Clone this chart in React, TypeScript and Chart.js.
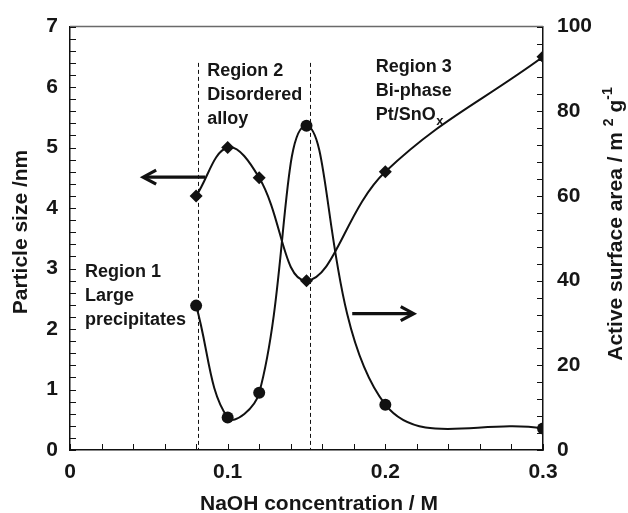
import React, { useEffect, useRef } from 'react';
import { Chart, registerables } from 'chart.js';

Chart.register(...registerables);

// ---- Data ----
const naohConcentration = [0.08, 0.1, 0.12, 0.15, 0.2, 0.3];
const particleSize = [4.2, 5.0, 4.5, 2.8, 4.6, 6.5];
const activeSurfaceArea = [34.1, 7.7, 13.5, 76.6, 10.7, 5.1];
const xTickLabels = ['0', '0.1', '0.2', '0.3'];
const leftTickLabels = ['0', '1', '2', '3', '4', '5', '6', '7'];
const rightTickLabels = ['0', '20', '40', '60', '80', '100'];
const regionBoundaries = [0.081, 0.152];

// annotation anchors in data units
const region1Lines = ['Region 1', 'Large', 'precipitates'];
const region2Lines = ['Region 2', 'Disordered', 'alloy'];
const region3Lines = ['Region 3', 'Bi-phase', 'Pt/SnO'];
const region1Anchor = { x: 0.0095, yLeft: 2.862 };
const region2Anchor = { x: 0.0871, yLeft: 6.18 };
const region3Anchor = { x: 0.1939, yLeft: 6.245 };
const leftArrow = { from: 0.0858, to: 0.0464, yLeft: 4.51 };
const rightArrow = { from: 0.179, to: 0.218, yRight: 32.2 };
const dashTopLeft = 6.4;

const FONT = "'Liberation Sans', Arial, Helvetica, sans-serif";
const TEXT = '#161616';

function line(ctx: CanvasRenderingContext2D, x1: number, y1: number, x2: number, y2: number) {
  ctx.beginPath();
  ctx.moveTo(x1, y1);
  ctx.lineTo(x2, y2);
  ctx.stroke();
}

function drawArrow(ctx: CanvasRenderingContext2D, x1: number, x2: number, y: number) {
  const dir = x2 < x1 ? 1 : -1;
  ctx.save();
  ctx.strokeStyle = '#111';
  ctx.lineWidth = 3.2;
  ctx.lineCap = 'butt';
  ctx.lineJoin = 'miter';
  line(ctx, x1, y, x2 + dir * 2, y);
  ctx.beginPath();
  ctx.moveTo(x2 + dir * 13, y - 7);
  ctx.lineTo(x2, y);
  ctx.lineTo(x2 + dir * 13, y + 7);
  ctx.stroke();
  ctx.restore();
}

const overlayPlugin = {
  id: 'overlay',
  beforeDatasetsDraw(chart: any) {
    const { ctx, chartArea: ca, scales } = chart;
    const x = scales.x;
    const yL = scales.yL;
    ctx.save();
    ctx.strokeStyle = '#111';
    ctx.lineWidth = 1;
    ctx.setLineDash([4, 3]);
    for (const b of regionBoundaries) {
      const px = Math.round(x.getPixelForValue(b)) + 0.5;
      line(ctx, px, yL.getPixelForValue(dashTopLeft), px, ca.bottom);
    }
    ctx.restore();
  },
  afterDraw(chart: any) {
    const { ctx, chartArea: ca, scales } = chart;
    const x = scales.x;
    const yL = scales.yL;
    const yR = scales.yR;
    ctx.save();
    // top frame line
    ctx.strokeStyle = '#6a6a6a';
    ctx.lineWidth = 1.5;
    line(ctx, ca.left, ca.top, ca.right, ca.top);

    // tick marks (inward)
    ctx.strokeStyle = '#111';
    ctx.lineWidth = 1;
    const xStep = 0.1 / 5;
    for (let i = 0; i <= Math.round(0.3 / xStep); i++) {
      const px = Math.round(x.getPixelForValue(i * xStep)) + 0.5;
      line(ctx, px, ca.bottom, px, ca.bottom - 6);
    }
    const lStep = 1 / 5;
    for (let i = 0; i <= Math.round(7 / lStep); i++) {
      const py = Math.round(yL.getPixelForValue(i * lStep)) + 0.5;
      line(ctx, ca.left, py, ca.left + 6, py);
    }
    const rStep = 20 / 5;
    for (let i = 0; i <= Math.round(100 / rStep); i++) {
      const py = Math.round(yR.getPixelForValue(i * rStep)) + 0.5;
      line(ctx, ca.right, py, ca.right - 6, py);
    }

    // arrows
    drawArrow(ctx, x.getPixelForValue(leftArrow.from), x.getPixelForValue(leftArrow.to), yL.getPixelForValue(leftArrow.yLeft));
    drawArrow(ctx, x.getPixelForValue(rightArrow.from), x.getPixelForValue(rightArrow.to), yR.getPixelForValue(rightArrow.yRight));

    // region texts
    ctx.fillStyle = TEXT;
    ctx.font = `bold 18px ${FONT}`;
    ctx.textAlign = 'left';
    ctx.textBaseline = 'alphabetic';
    const lineGap = 24;
    const drawLines = (lines: string[], anchor: { x: number; yLeft: number }, subLast?: string) => {
      const px = x.getPixelForValue(anchor.x);
      const py = yL.getPixelForValue(anchor.yLeft);
      lines.forEach((t, i) => {
        ctx.font = `bold 18px ${FONT}`;
        ctx.fillText(t, px, py + i * lineGap);
        if (subLast && i === lines.length - 1) {
          const w = ctx.measureText(t).width;
          ctx.font = `bold 13px ${FONT}`;
          ctx.fillText(subLast, px + w + 0.5, py + i * lineGap + 5);
        }
      });
    };
    drawLines(region1Lines, region1Anchor);
    drawLines(region2Lines, region2Anchor);
    drawLines(region3Lines, region3Anchor, 'x');

    // axis titles
    ctx.font = `bold 21px ${FONT}`;
    ctx.textAlign = 'center';
    ctx.fillText('NaOH concentration / M', 319, 510);

    ctx.save();
    ctx.translate(27, 232);
    ctx.rotate(-Math.PI / 2);
    ctx.textAlign = 'center';
    ctx.fillText('Particle size /nm', 0, 0);
    ctx.restore();

    ctx.save();
    ctx.translate(622, 224);
    ctx.rotate(-Math.PI / 2);
    ctx.textAlign = 'left';
    const pieces = [
      { t: 'Active surface area / m ', s: 21, dy: 0 },
      { t: '2', s: 14, dy: -9 },
      { t: ' g', s: 21, dy: 0 },
      { t: '-1', s: 14, dy: -10 },
    ];
    let total = 0;
    for (const p of pieces) {
      ctx.font = `bold ${p.s}px ${FONT}`;
      total += ctx.measureText(p.t).width;
    }
    let cx = -total / 2;
    for (const p of pieces) {
      ctx.font = `bold ${p.s}px ${FONT}`;
      ctx.fillText(p.t, cx, p.dy);
      cx += ctx.measureText(p.t).width;
    }
    ctx.restore();

    ctx.restore();
  },
};

export default function App() {
  const canvasRef = useRef<HTMLCanvasElement | null>(null);

  useEffect(() => {
    document.body.style.margin = '0';
    const canvas = canvasRef.current;
    if (!canvas) return;

    const diamonds = naohConcentration.map((v, i) => ({ x: v, y: particleSize[i] }));
    const circles = naohConcentration.map((v, i) => ({ x: v, y: activeSurfaceArea[i] }));

    const tickFont = { family: FONT, size: 21, weight: 'bold' as const };

    const chart = new Chart(canvas, {
      type: 'line',
      data: {
        datasets: [
          {
            label: 'Particle size',
            data: diamonds,
            yAxisID: 'yL',
            borderColor: '#111',
            backgroundColor: '#111',
            borderWidth: 2,
            tension: 0.4,
            pointStyle: 'rectRot',
            pointRadius: 6.5,
            pointBorderWidth: 0,
            fill: false,
          },
          {
            label: 'Active surface area',
            data: circles,
            yAxisID: 'yR',
            borderColor: '#111',
            backgroundColor: '#111',
            borderWidth: 2,
            tension: 0.4,
            pointStyle: 'circle',
            pointRadius: 6,
            pointBorderWidth: 0,
            fill: false,
          },
        ],
      },
      options: {
        responsive: false,
        animation: false,
        devicePixelRatio: 1,
        layout: { padding: { top: 22, left: 0, right: 0, bottom: 0 } },
        plugins: {
          legend: { display: false },
          tooltip: { enabled: false },
        },
        scales: {
          x: {
            type: 'linear',
            min: 0,
            max: 0.3,
            grid: { display: false, drawTicks: false },
            border: { display: true, color: '#111', width: 1.5 },
            ticks: {
              stepSize: 0.1,
              padding: 10,
              color: TEXT,
              font: tickFont,
              autoSkip: false,
              maxRotation: 0,
              callback: (v: any) => {
                const idx = Math.round(Number(v) / 0.1);
                return xTickLabels[idx] ?? '';
              },
            },
            afterFit: (s: any) => {
              s.height = 63;
            },
          },
          yL: {
            type: 'linear',
            position: 'left',
            min: 0,
            max: 7,
            grid: { display: false, drawTicks: false },
            border: { display: true, color: '#111', width: 1.5 },
            ticks: {
              stepSize: 1,
              padding: 12,
              color: TEXT,
              font: tickFont,
              autoSkip: false,
              callback: (v: any) => leftTickLabels[Math.round(Number(v))] ?? '',
            },
            afterFit: (s: any) => {
              s.width = 70;
            },
          },
          yR: {
            type: 'linear',
            position: 'right',
            min: 0,
            max: 100,
            grid: { display: false, drawTicks: false },
            border: { display: true, color: '#111', width: 1.5 },
            ticks: {
              stepSize: 20,
              padding: 14,
              color: TEXT,
              font: tickFont,
              autoSkip: false,
              callback: (v: any) => rightTickLabels[Math.round(Number(v) / 20)] ?? '',
            },
            afterFit: (s: any) => {
              s.width = 85;
            },
          },
        },
      },
      plugins: [overlayPlugin],
    });

    return () => {
      chart.destroy();
    };
  }, []);

  return (
    <div style={{ width: 628, height: 513, overflow: 'hidden', background: '#fff' }}>
      <canvas ref={canvasRef} width={628} height={513} style={{ display: 'block', width: 628, height: 513 }} />
    </div>
  );
}
